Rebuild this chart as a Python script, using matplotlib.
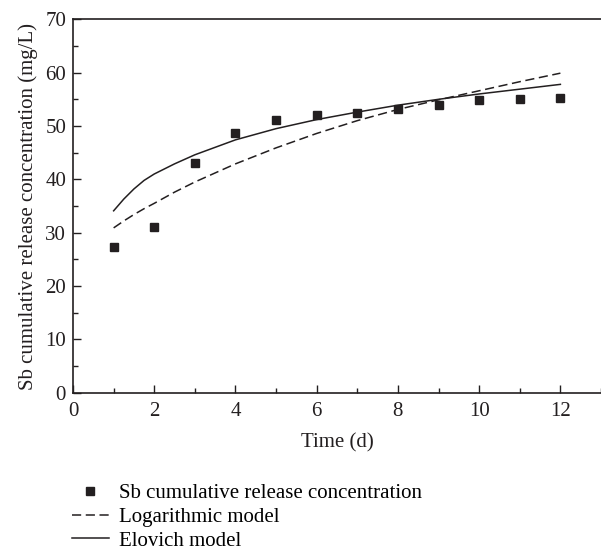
import matplotlib
matplotlib.use("Agg")
import matplotlib.pyplot as plt
from matplotlib.ticker import MultipleLocator

plt.rcParams['font.family'] = ['Liberation Serif', 'DejaVu Serif']

# measured release
days = [1, 2, 3, 4, 5, 6, 7, 8, 9, 10, 11, 12]
sb_release = [27.3, 31.1, 43.1, 48.7, 51.2, 52.1, 52.5, 53.1, 53.9, 54.9, 55.1, 55.2]

# model curves
t_model = [1, 1.25, 1.5, 1.75, 2, 2.5, 3, 4, 5, 6, 7, 8, 9, 10, 11, 12]
log_model = [30.9, 32.2, 33.4, 34.5, 35.5, 37.6, 39.5, 42.9, 45.9, 48.6, 51.0, 53.1,
             54.9, 56.6, 58.3, 59.9]
elovich_model = [34.1, 36.3, 38.2, 39.8, 41.0, 42.9, 44.6, 47.4, 49.5, 51.2, 52.6, 53.9,
                 55.0, 56.0, 56.9, 57.8]

ink = '#231f20'
fs = 15

fig = plt.figure(figsize=(6.01, 5.54), dpi=100)
ax = fig.add_axes([0.1215, 0.2911, 0.8785, 0.6741])

ax.plot(days, sb_release, 's', color=ink, markersize=6,
        label='Sb cumulative release concentration')
ax.plot(t_model, log_model, '--', color=ink, lw=1.1, dashes=(6, 3),
        label='Logarithmic model')
ax.plot(t_model, elovich_model, '-', color=ink, lw=1.1, label='Elovich model')

ax.set_xlim(0, 13)
ax.set_ylim(0, 70)
ax.xaxis.set_major_locator(MultipleLocator(2))
ax.xaxis.set_minor_locator(MultipleLocator(1))
ax.yaxis.set_major_locator(MultipleLocator(10))
ax.yaxis.set_minor_locator(MultipleLocator(5))
ax.tick_params(which='both', direction='in', labelsize=fs, colors=ink, width=1)
ax.tick_params(which='major', length=5.5, pad=5)
ax.tick_params(axis='x', which='major', pad=6.5)
ax.tick_params(which='minor', length=3.5)
ax.spines['right'].set_visible(False)
for s in ['left', 'top', 'bottom']:
    ax.spines[s].set_linewidth(1.2)
    ax.spines[s].set_color(ink)

ax.set_xlabel('Time (d)', fontsize=fs, color=ink, labelpad=9)
ax.set_ylabel('Sb cumulative release concentration (mg/L)', fontsize=fs, color=ink,
              labelpad=5)

fig.legend(loc='upper left', bbox_to_anchor=(0.12, 0.127), frameon=False, fontsize=fs,
           handlelength=1.75, handletextpad=0.5, labelspacing=0.2, borderpad=0,
           borderaxespad=0, markerscale=0.9)

fig.savefig("out.png", dpi=100)
